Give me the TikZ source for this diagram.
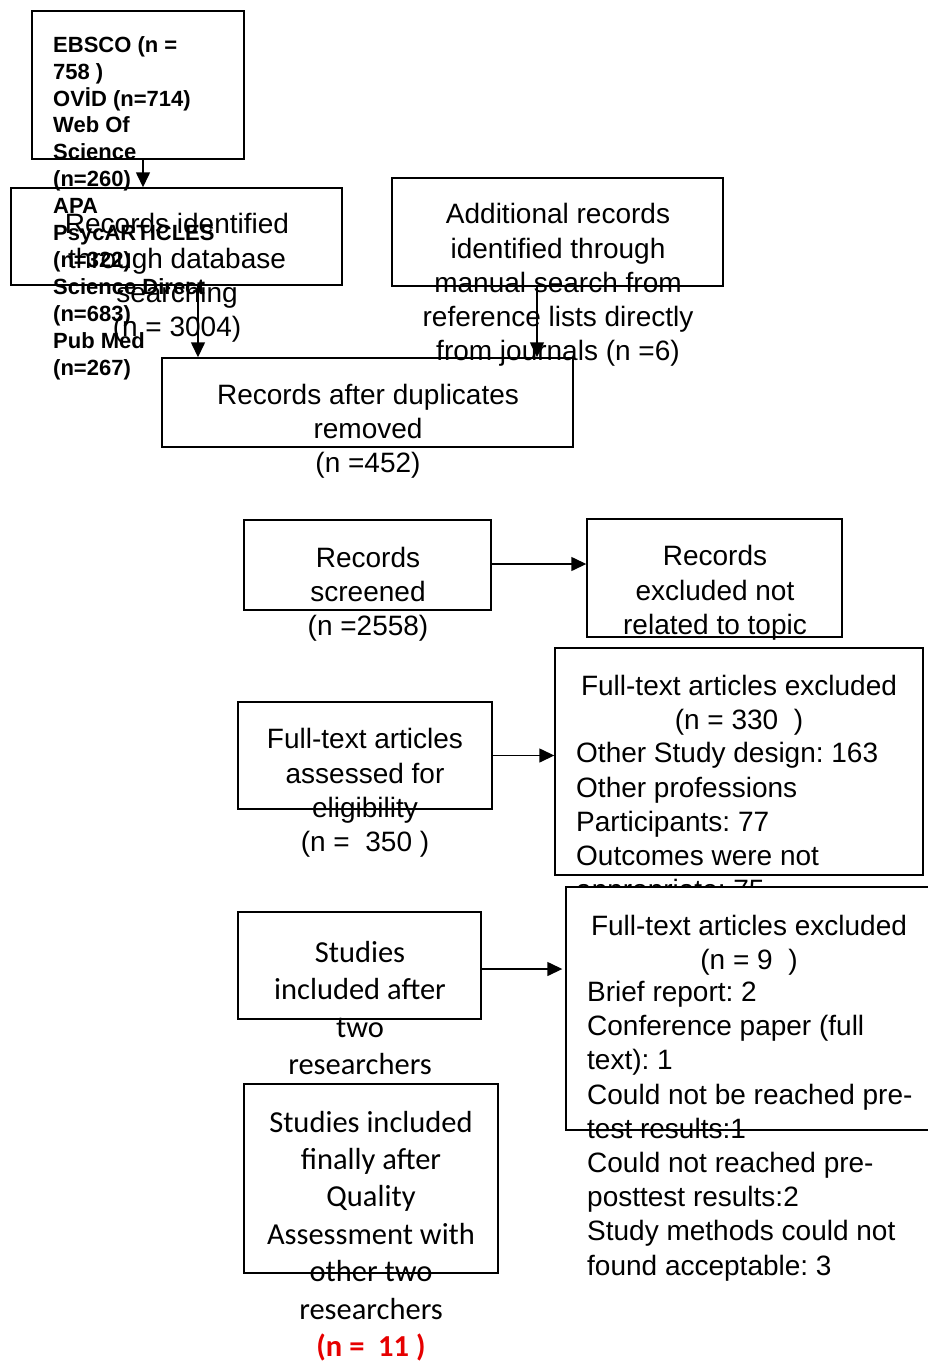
\documentclass[tikz,border=0pt]{standalone}
\usepackage{fontspec}
\setmainfont{Liberation Sans}
\newfontfamily\carlfont{Carlito}
\usetikzlibrary{arrows.meta}
\definecolor{nred}{RGB}{230,0,0}
\frenchspacing
\tikzset{
  box/.style={draw=black, line width=1.4pt, inner sep=0pt},
  wbox/.style={box, fill=white},
  arr/.style={line width=1.4pt, -{Triangle[length=15pt,width=14pt]}},
  ta/.style={inner sep=0pt, align=center, font=\fontsize{28}{34.2}\selectfont},
  tl/.style={inner sep=0pt, align=left, anchor=west, font=\fontsize{28}{34.2}\selectfont},
  tb/.style={inner sep=0pt, align=left, anchor=west, font=\fontsize{22}{26.9}\selectfont\bfseries},
  tc/.style={inner sep=0pt, align=center, font=\carlfont\fontsize{30.5}{37.4}\selectfont},
}
\begin{document}
\begin{tikzpicture}[x=1pt,y=-1pt]
\useasboundingbox (0,0) rectangle (927,1362);
% boxes
\node[box, minimum width=212pt, minimum height=148pt] (A) at (138,85) {};
\node[tb] (At) at (53,208) {EBSCO (n =\\758 )\\OVİD (n=714)\\Web Of\\Science\\(n=260)\\APA\\PsycARTICLES\\(n=322)\\Science Direct\\(n=683)\\Pub Med\\(n=267)};
\node[box, minimum width=331pt, minimum height=97pt] (B) at (176.5,236.5) {};
\node[ta] (Bt) at (177,278) {Records identified\\through database\\searching\\(n = 3004)};
\node[box, minimum width=331pt, minimum height=108pt] (C) at (557.5,232) {};
\node[ta] (Ct) at (558,285) {Additional records\\identified through\\manual search from\\reference lists directly\\from journals (n =6)};
\node[box, minimum width=411pt, minimum height=89pt] (D) at (367.5,402.5) {};
\node[ta] (Dt) at (368,431) {Records after duplicates\\removed\\(n =452)};
\node[box, minimum width=247pt, minimum height=90pt] (E) at (367.5,565) {};
\node[ta] (Et) at (368,594) {Records\\screened\\(n =2558)};
\node[box, minimum width=255pt, minimum height=118pt] (F) at (714.5,578) {};
\node[ta] (Ft) at (715,610) {Records\\excluded not\\related to topic\\(n = 2208 )};
\node[box, minimum width=254pt, minimum height=107pt] (G) at (365,755.5) {};
\node[ta] (Gt) at (365,793) {Full-text articles\\assessed for\\eligibility\\(n =\ \ 350 )};
\node[wbox, minimum width=368pt, minimum height=227pt] (H) at (739,761.5) {};
\node[ta] (Ht) at (739,705) {Full-text articles excluded\\(n = 330\ \ )};
\node[tl] (Hl) at (576,824) {Other Study design: 163\\Other professions\\Participants: 77\\Outcomes were not\\appropriate: 75};
\node[wbox, minimum width=384pt, minimum height=243pt] (I) at (758,1008.5) {};
\node[ta] (It) at (749,945) {Full-text articles excluded\\(n = 9\ \ )};
\node[tl] (Il) at (587,1131) {Brief report: 2\\Conference paper (full\\text): 1\\Could not be reached pre-\\test results:1\\Could not reached pre-\\posttest results:2\\Study methods could not\\found acceptable: 3};
\node[box, minimum width=243pt, minimum height=107pt] (J) at (359.5,965.5) {};
\node[tc] (Jt) at (360,1008) {Studies\\included after\\two\\researchers};
\node[box, minimum width=254pt, minimum height=189pt] (K) at (371,1178.5) {};
\node[tc] (Kt) at (371,1236) {Studies included\\finally after\\Quality\\Assessment with\\other two\\researchers\\{\color{nred}\bfseries (n =\ \ 11 )}};
% connectors
\draw[arr] ([xshift=5pt]A.south) -- ([xshift=5pt]A.south |- B.north);
\draw[arr] ([xshift=21.5pt]B.south) -- ([xshift=21.5pt]B.south |- D.north);
\draw[arr] ([xshift=-20.5pt]C.south) -- ([xshift=-20.5pt]C.south |- D.north);
\draw[arr] ([yshift=1pt]E.east) -- ([yshift=1pt]E.east -| F.west);
\draw[arr] (G.east) -- (G.east -| H.west);
\draw[arr] ([yshift=-3.5pt]J.east) -- ([yshift=-3.5pt,xshift=-3pt]J.east -| I.west);
\end{tikzpicture}
\end{document}
